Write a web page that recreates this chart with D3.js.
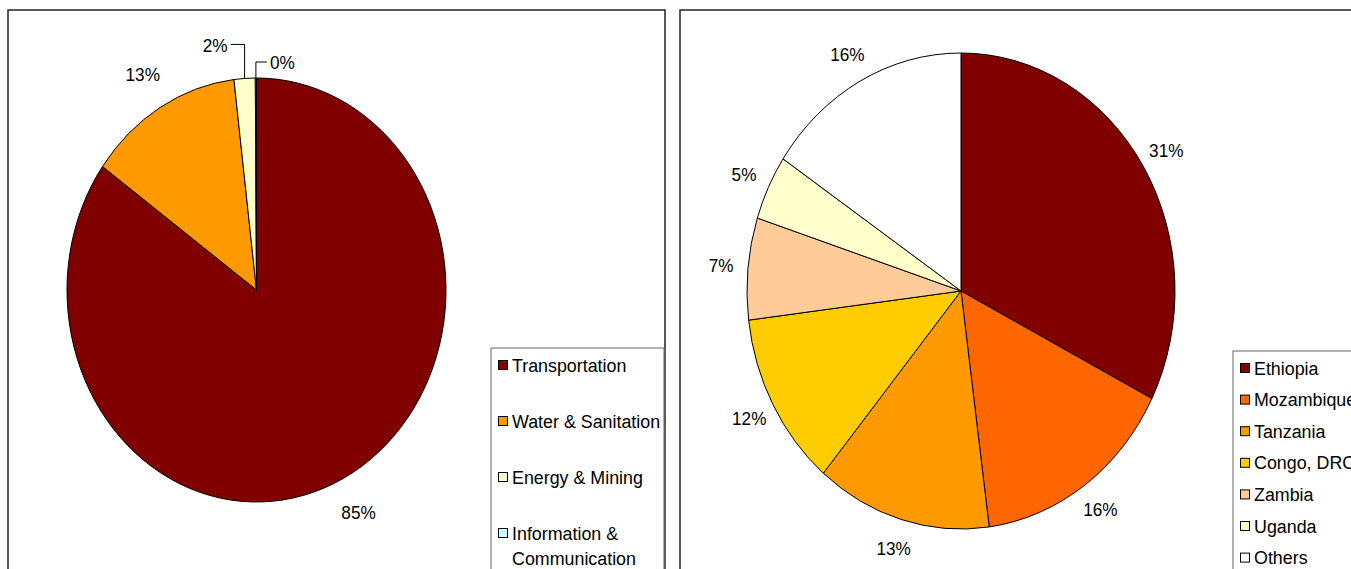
<!DOCTYPE html>
<html>
<head>
<meta charset="utf-8">
<script src="https://cdn.jsdelivr.net/npm/d3@7"></script>
<style>
  body { margin: 0; background: #fff; }
  svg { display: block; font-family: "Liberation Sans", Arial, sans-serif; }
</style>
</head>
<body>
<svg width="1351" height="569"></svg>
<script>
// left chart data
const sectorNames = ["Transportation", "Water & Sanitation", "Energy & Mining", "Information & Communication"];
const sectorShares = [84.9, 13.2, 1.8, 0.1];
const sectorLabels = ["85%", "13%", "2%", "0%"];
const sectorColors = ["#800000", "#FF9900", "#FFFFCC", "#CCFFFF"];

// right chart data
const countryNames = ["Ethiopia", "Mozambique", "Tanzania", "Congo, DRC", "Zambia", "Uganda", "Others"];
const countryShares = [32.4, 15.4, 13.2, 11.9, 6.9, 4.4, 15.6];
const countryLabels = ["31%", "16%", "13%", "12%", "7%", "5%", "16%"];
const countryColors = ["#800000", "#FF6600", "#FF9900", "#FFCC00", "#FFCC99", "#FFFFCC", "#FFFFFF"];

const svg = d3.select("svg");

// helper: horizontally condensed text like the original
function label(g, x, y, str, anchor, size, sx) {
  return g.append("text")
    .attr("transform", "translate(" + x + "," + y + ") scale(" + (sx || 0.93) + ",1)")
    .attr("text-anchor", anchor || "middle")
    .attr("dominant-baseline", "central")
    .attr("font-size", size || 18.5)
    .attr("fill", "#000")
    .text(str);
}

// panel frames
svg.append("rect").attr("x", 8).attr("y", 10).attr("width", 657).attr("height", 580)
  .attr("fill", "none").attr("stroke", "#000").attr("stroke-width", 1.3);
svg.append("rect").attr("x", 680).attr("y", 10).attr("width", 700).attr("height", 580)
  .attr("fill", "none").attr("stroke", "#000").attr("stroke-width", 1.3);

function drawPie(opts) {
  const pie = d3.pie().sort(null).value(d => d)(opts.values);
  const sx = opts.rx / opts.ry;
  const arc = d3.arc().innerRadius(0).outerRadius(opts.ry);

  const g = svg.append("g")
    .attr("transform", "translate(" + opts.cx + "," + opts.cy + ") scale(" + sx + ",1)");
  g.selectAll("path")
    .data(pie)
    .enter()
    .append("path")
    .attr("d", arc)
    .attr("fill", (d, i) => opts.colors[i])
    .attr("stroke", "#000")
    .attr("stroke-width", 1)
    .attr("vector-effect", "non-scaling-stroke");

  // labels outside the slices
  const labelArc = d3.arc().innerRadius(opts.ry + opts.gap).outerRadius(opts.ry + opts.gap);
  const edgeArc = d3.arc().innerRadius(opts.ry).outerRadius(opts.ry);
  pie.forEach((d, i) => {
    const lead = opts.leaders && opts.leaders[i];
    if (lead) {
      const e = edgeArc.centroid(d);
      const ex = opts.cx + e[0] * sx;
      const ey = opts.cy + e[1];
      const pts = [[ex, ey], [ex, ey - lead.rise], [ex + lead.run, ey - lead.rise]];
      svg.append("path")
        .attr("d", d3.line()(pts))
        .attr("fill", "none")
        .attr("stroke", "#000")
        .attr("stroke-width", 1);
      const dir = lead.run < 0 ? -1 : 1;
      label(svg, ex + lead.run + dir * 3, ey - lead.rise + 1, opts.labels[i], dir < 0 ? "end" : "start");
    } else {
      const c = labelArc.centroid(d);
      label(svg, opts.cx + c[0] * sx, opts.cy + c[1], opts.labels[i]);
    }
  });
}

drawPie({
  values: sectorShares, colors: sectorColors, labels: sectorLabels,
  cx: 256.5, cy: 290, rx: 189.5, ry: 212, gap: 38,
  leaders: {2: {rise: 34, run: -14}, 3: {rise: 16, run: 11}}
});

drawPie({
  values: countryShares, colors: countryColors, labels: countryLabels,
  cx: 961, cy: 291, rx: 214, ry: 238, gap: 30
});

// legends
function drawLegend(opts) {
  const g = svg.append("g");
  g.append("rect")
    .attr("x", opts.x).attr("y", opts.y)
    .attr("width", opts.w).attr("height", 300)
    .attr("fill", "#fff")
    .attr("stroke", "#666")
    .attr("stroke-width", 1);
  opts.names.forEach((name, i) => {
    const cy = opts.y + opts.first + i * opts.step;
    g.append("rect")
      .attr("x", opts.x + 7.5).attr("y", cy - 4.5)
      .attr("width", 9).attr("height", 9)
      .attr("fill", opts.colors[i])
      .attr("stroke", "#000")
      .attr("stroke-width", 1);
    const lines = opts.wrap && opts.wrap[name] ? opts.wrap[name] : [name];
    lines.forEach((ln, j) => {
      label(g, opts.x + 21, cy + j * 25, ln, "start", 19, 0.94);
    });
  });
}

drawLegend({
  x: 491, y: 348, w: 173, names: sectorNames, colors: sectorColors,
  first: 17, step: 56,
  wrap: {"Information & Communication": ["Information &", "Communication"]}
});

drawLegend({
  x: 1233, y: 351, w: 140, names: countryNames, colors: countryColors,
  first: 17, step: 31.6
});
</script>
</body>
</html>
